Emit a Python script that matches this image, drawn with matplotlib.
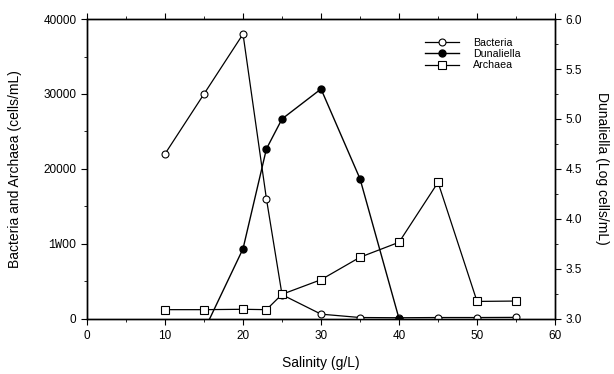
import matplotlib
matplotlib.use("Agg")
import matplotlib.pyplot as plt
from matplotlib.ticker import MultipleLocator

plt.rcParams['font.family'] = ['Liberation Sans', 'DejaVu Sans']

# Data
salinity_bact = [10, 15, 20, 23, 25, 30, 35, 40, 45, 50, 55]
bacteria = [22000, 30000, 38000, 16000, 3200, 600, 150, 120, 150, 150, 170]

salinity_arch = [10, 15, 20, 23, 25, 30, 35, 40, 45, 50, 55]
archaea = [1200, 1200, 1250, 1200, 3250, 5200, 8200, 10200, 18200, 2300, 2350]

salinity_dun = [15, 20, 23, 25, 30, 35, 40]
dunaliella = [2.88, 3.70, 4.70, 5.00, 5.30, 4.40, 3.00]

left_ticks = [0, 10000, 20000, 30000, 40000]
left_ticklabels = ["0", "1WOO", "20000", "30000", "40000"]
right_ticks = [3.0, 3.5, 4.0, 4.5, 5.0, 5.5, 6.0]
x_ticks = [0, 10, 20, 30, 40, 50, 60]

fig = plt.figure(figsize=(6.14, 3.74), dpi=100)
ax = fig.add_axes([0.1417, 0.148, 0.7623, 0.801])
ax2 = ax.twinx()

lb, = ax.plot(salinity_bact, bacteria, color='black', lw=0.9, marker='o',
              markersize=5, markerfacecolor='white', markeredgecolor='black',
              markeredgewidth=0.8, zorder=3, label='Bacteria')
la, = ax.plot(salinity_arch, archaea, color='black', lw=0.9, marker='s',
              markersize=5.5, markerfacecolor='white', markeredgecolor='black',
              markeredgewidth=0.8, zorder=3, label='Archaea')
ld, = ax2.plot(salinity_dun, dunaliella, color='black', lw=1.0, marker='o',
               markersize=5, markerfacecolor='black', markeredgecolor='black',
               zorder=3, label='Dunaliella')

ax.set_xlim(0, 60)
ax.set_ylim(0, 40000)
ax2.set_ylim(3.0, 6.0)

ax.set_xticks(x_ticks)
ax.xaxis.set_minor_locator(MultipleLocator(5))
ax.set_yticks(left_ticks)
ax.set_yticklabels(left_ticklabels)
ax.yaxis.set_minor_locator(MultipleLocator(5000))
ax2.set_yticks(right_ticks)
ax2.set_yticklabels([f"{v:.1f}" for v in right_ticks])
ax2.yaxis.set_minor_locator(MultipleLocator(0.25))

for lab in ax.get_yticklabels():
    if lab.get_text() == "1WOO":
        lab.set_family(['Liberation Mono', 'DejaVu Sans Mono'])

ax.tick_params(axis='both', which='major', direction='out', length=4,
               width=0.8, labelsize=8.5, top=True)
ax.tick_params(axis='both', which='minor', direction='out', length=2.5,
               width=0.6, top=True)
ax.tick_params(axis='x', pad=4.5)
ax2.tick_params(axis='y', which='major', direction='out', length=4,
                width=0.8, labelsize=8.5)
ax2.tick_params(axis='y', which='minor', direction='out', length=2.5, width=0.6)

for a in (ax, ax2):
    for sp in a.spines.values():
        sp.set_linewidth(1.0)

ax.set_xlabel("Salinity (g/L)", fontsize=10, va='center')
ax.xaxis.set_label_coords(0.5, -0.148)
ax.set_ylabel("Bacteria and Archaea (cells/mL)", fontsize=10, va='center')
ax.yaxis.set_label_coords(-0.153, 0.5)
ax2.set_ylabel("Dunaliella (Log cells/mL)", fontsize=10, rotation=-90,
               va='center')
ax2.yaxis.set_label_coords(1.10, 0.5)

leg = ax.legend([lb, ld, la], ['Bacteria', 'Dunaliella', 'Archaea'],
                loc='upper right', bbox_to_anchor=(0.947, 0.97), frameon=False,
                fontsize=7.7, handlelength=3.2, labelspacing=0.12,
                handletextpad=1.3)

fig.savefig("out.png", dpi=100)
